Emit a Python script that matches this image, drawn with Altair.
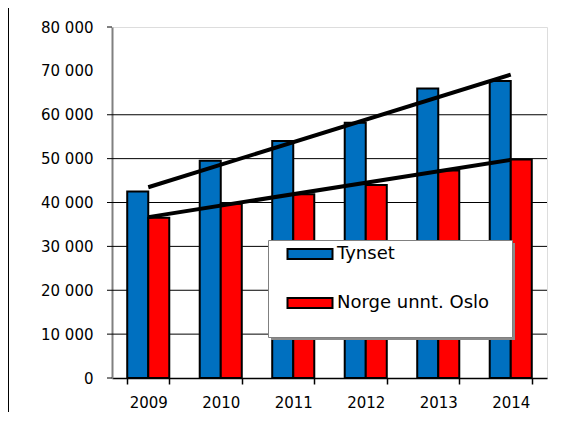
import altair as alt
import pandas as pd

years = [2009, 2010, 2011, 2012, 2013, 2014]
tynset = [42500, 49500, 54000, 58200, 66000, 67700]
norge = [36500, 39700, 41900, 44000, 47300, 49800]
series = ["Tynset", "Norge unnt. Oslo"]
colors = ["#0070C0", "#FF0000"]
y_labels = [0, 10000, 20000, 30000, 40000, 50000, 60000, 70000, 80000]
y_tick_marks = [0, 10000, 20000, 30000, 40000, 50000, 60000, 80000]
y_grid = [10000, 20000, 30000, 40000, 50000, 60000]

rows = []
for i, yr in enumerate(years):
    rows.append({"year": yr, "series": series[0], "value": tynset[i]})
    rows.append({"year": yr, "series": series[1], "value": norge[i]})
df = pd.DataFrame(rows)

FONT = "DejaVu Sans"

x_axis = alt.Axis(
    title=None, labelAngle=0, labelFontSize=15, labelFont=FONT, labelColor="black",
    tickBand="extent", tickColor="black", tickSize=6, tickWidth=1.5,
    domainColor="black", domainWidth=1.5, labelPadding=11, grid=False,
)
y_axis = alt.Axis(
    title=None, values=y_labels, labelFontSize=15, labelFont=FONT, labelColor="black",
    labelExpr="replace(format(datum.value, ','), ',', ' ')",
    ticks=False, tickSize=0, grid=False,
    domainColor="#808080", domainWidth=2, labelPadding=19,
)
x_scale = alt.Scale(paddingInner=0.42, paddingOuter=0.21)
y_scale = alt.Scale(domain=[0, 80000], nice=False)

grid = alt.Chart(pd.DataFrame({"value": y_grid})).mark_rule(color="black", strokeWidth=1).encode(
    y=alt.Y("value:Q", scale=y_scale, axis=y_axis),
)

ticks = alt.Chart(pd.DataFrame({"value": y_tick_marks})).mark_rule(color="black", strokeWidth=1).encode(
    y=alt.Y("value:Q", scale=y_scale, axis=y_axis),
    x=alt.value(-5), x2=alt.value(0),
)

bars = alt.Chart(df).mark_bar(stroke="black", strokeWidth=2).encode(
    x=alt.X("year:O", scale=x_scale, axis=x_axis),
    xOffset=alt.XOffset("series:N", sort=series, scale=alt.Scale(domain=series, paddingInner=0, paddingOuter=0)),
    y=alt.Y("value:Q", scale=y_scale, axis=y_axis),
    color=alt.Color(
        "series:N", sort=series,
        scale=alt.Scale(domain=series, range=colors),
        legend=alt.Legend(
            orient="none", legendX=156, legendY=213, title=None,
            symbolType="M-2.25,-0.5H2.25V0.5H-2.25Z", symbolSize=400,
            symbolStrokeColor="black", symbolStrokeWidth=2, symbolOpacity=1,
            symbolOffset=28, labelOffset=16,
            labelFontSize=18, labelFont=FONT, labelColor="black", labelLimit=400,
            rowPadding=29, padding=3,
        ),
    ),
)

trend = alt.Chart(df).transform_regression(
    "year", "value", groupby=["series"], extent=[2009, 2014]
).mark_line(color="black", strokeWidth=4).encode(
    x=alt.X("year:O", bandPosition=0.5, scale=x_scale, axis=x_axis),
    y=alt.Y("value:Q", scale=y_scale, axis=y_axis),
    detail="series:N",
)

one = pd.DataFrame({"a": [0]})
legend_shadow = alt.Chart(one).mark_rect(color="#8a8a8a").encode(
    x=alt.value(159), x2=alt.value(403), y=alt.value(216), y2=alt.value(313)
)
legend_box = alt.Chart(one).mark_rect(fill="white", stroke="#808080", strokeWidth=1).encode(
    x=alt.value(156.5), x2=alt.value(400.5), y=alt.value(213.5), y2=alt.value(310.5)
)

border = alt.Chart(one).mark_rule(color="black", strokeWidth=1).encode(
    x=alt.value(-103.5), y=alt.value(-19), y2=alt.value(390)
)

chart = alt.layer(grid, bars, trend, ticks, legend_shadow, legend_box, border).properties(
    width=435, height=351,
    padding={"left": 104, "top": 19, "right": 25, "bottom": 34},
    autosize="none",
).configure_view(stroke="#808080", strokeWidth=2).configure(font=FONT)

chart.save("out.html", embed_options={"renderer": "svg", "actions": False})
